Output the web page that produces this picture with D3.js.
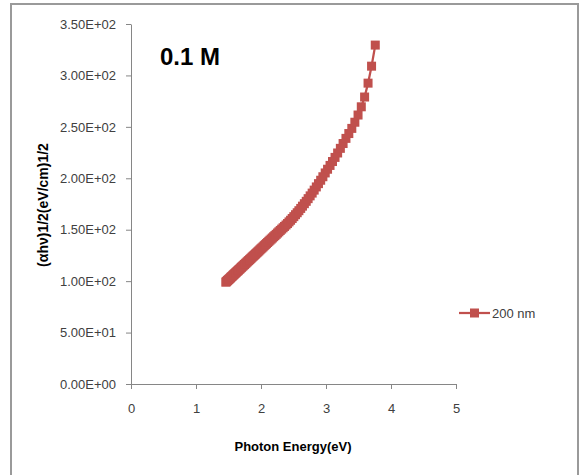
<!DOCTYPE html>
<html>
<head>
<meta charset="utf-8">
<script src="https://cdn.jsdelivr.net/npm/d3@7"></script>
<style>
  body { margin: 0; background: #fff; }
  text { font-family: "Liberation Sans", Arial, sans-serif; fill: #404040; }
</style>
</head>
<body>
<div id="chart"></div>
<script>
var width = 582, height = 475;
var margin = ({top: 24, right: 125, bottom: 91, left: 131});

// photon energy (eV)
var energy = [1.459,1.467,1.476,1.485,1.494,1.503,1.512,1.521,1.531,1.540,
  1.550,1.560,1.570,1.580,1.590,1.600,1.610,1.621,1.632,1.642,
  1.653,1.664,1.676,1.687,1.699,1.710,1.722,1.734,1.746,1.759,
  1.771,1.784,1.797,1.810,1.824,1.837,1.851,1.865,1.879,1.893,
  1.908,1.922,1.938,1.953,1.968,1.984,2.000,2.016,2.033,2.050,
  2.067,2.084,2.102,2.120,2.138,2.157,2.175,2.195,2.214,2.234,
  2.255,2.275,2.296,2.318,2.340,2.362,2.385,2.408,2.431,2.455,
  2.480,2.505,2.531,2.557,2.583,2.611,2.638,2.667,2.696,2.725,
  2.756,2.787,2.818,2.851,2.884,2.918,2.952,2.988,3.024,3.062,
  3.100,3.139,3.179,3.221,3.263,3.307,3.351,3.397,3.444,3.493,
  3.543,3.594,3.647,3.701,3.758];

// (ahv)^1/2 values, 200 nm film
var tauc200 = [99.0,99.5,100.0,100.6,101.1,101.6,102.2,102.7,103.3,103.9,
  104.5,105.1,105.7,106.3,106.9,107.5,108.1,108.7,109.4,110.0,
  110.6,111.3,112.0,112.7,113.4,114.1,114.8,115.5,116.2,117.0,
  117.7,118.5,119.3,120.1,120.9,121.7,122.5,123.4,124.2,125.0,
  125.9,126.8,127.7,128.6,129.5,130.5,131.5,132.4,133.4,134.5,
  135.5,136.5,137.6,138.7,139.8,140.9,142.0,143.2,144.3,145.5,
  146.8,148.0,149.3,150.6,151.9,153.2,154.6,156.0,157.6,159.2,
  160.9,162.7,164.6,166.5,168.5,170.7,172.9,175.3,177.6,180.2,
  182.9,185.6,188.5,191.6,194.8,198.1,201.5,205.2,208.8,212.5,
  216.3,220.3,224.6,229.1,233.8,238.8,243.5,248.5,254.5,261.5,
  269.5,279.0,292.5,309.0,329.5];

var xTicks = [0, 1, 2, 3, 4, 5];
var xTickLabels = ["0", "1", "2", "3", "4", "5"];
var yTicks = [0, 50, 100, 150, 200, 250, 300, 350];
var yTickLabels = ["0.00E+00","5.00E+01","1.00E+02","1.50E+02","2.00E+02","2.50E+02","3.00E+02","3.50E+02"];
var seriesName = "200 nm";
var red = "#c0504d";

var svg = d3.select("#chart").append("svg")
  .attr("width", width)
  .attr("height", height);

// chart frame
svg.append("rect")
  .attr("x", 11).attr("y", 4)
  .attr("width", 567).attr("height", 490)
  .attr("fill", "none")
  .attr("stroke", "#9a9a9a")
  .attr("stroke-width", 2);

var x = d3.scaleLinear().domain([0, 5]).range([margin.left, width - margin.right - 1]);
var y = d3.scaleLinear().domain([0, 350]).range([height - margin.bottom, margin.top]);

var xAxis = g => g
  .attr("transform", `translate(0,${y(0)})`)
  .call(d3.axisBottom(x).tickValues(xTicks).tickSize(5).tickSizeOuter(0).tickPadding(15)
    .tickFormat((d, i) => xTickLabels[i]))
  .call(g => g.selectAll("line, path").attr("stroke", "#868686"))
  .call(g => g.selectAll("text").attr("font-size", 13).attr("fill", "#404040")
    .attr("font-family", "Liberation Sans, Arial, sans-serif"));

var yAxis = g => g
  .attr("transform", `translate(${x(0)},0)`)
  .call(d3.axisLeft(y).tickValues(yTicks).tickSize(5).tickSizeOuter(0).tickPadding(10)
    .tickFormat((d, i) => yTickLabels[i]))
  .call(g => g.selectAll("line, path").attr("stroke", "#868686"))
  .call(g => g.selectAll("text").attr("font-size", 13).attr("fill", "#404040")
    .attr("font-family", "Liberation Sans, Arial, sans-serif"));

svg.append("g").call(xAxis);
svg.append("g").call(yAxis);

var pts = energy.map((e, i) => [e, tauc200[i]]);

var line = d3.line()
  .x(d => x(d[0]))
  .y(d => y(d[1]));

svg.append("path")
  .datum(pts)
  .attr("fill", "none")
  .attr("stroke", red)
  .attr("stroke-width", 2.25)
  .attr("d", line);

svg.append("g").selectAll("rect")
  .data(pts)
  .join("rect")
    .attr("x", d => x(d[0]) - 4.5)
    .attr("y", d => y(d[1]) - 4.5)
    .attr("width", 9)
    .attr("height", 9)
    .attr("fill", red);

// label inside plot
svg.append("text")
  .attr("x", 160).attr("y", 65)
  .attr("font-size", 24)
  .attr("font-weight", "bold")
  .style("fill", "#000")
  .text("0.1 M");

// axis titles
svg.append("text")
  .attr("x", 293).attr("y", 451)
  .attr("text-anchor", "middle")
  .attr("font-size", 13)
  .attr("font-weight", "bold")
  .style("fill", "#000")
  .text("Photon Energy(eV)");

svg.append("text")
  .attr("transform", "translate(48,205) rotate(-90)")
  .attr("text-anchor", "middle")
  .attr("font-size", 14)
  .attr("font-weight", "bold")
  .style("fill", "#000")
  .text("(\u03b1h\u03bd)1/2(eV/cm)1/2");

// legend
var lg = svg.append("g").attr("transform", "translate(459,313)");
lg.append("line")
  .attr("x1", 0).attr("x2", 31)
  .attr("stroke", red).attr("stroke-width", 2.25);
lg.append("rect")
  .attr("x", 11).attr("y", -4.5).attr("width", 9).attr("height", 9)
  .attr("fill", red);
lg.append("text")
  .attr("x", 33).attr("y", 4.5)
  .attr("font-size", 13)
  .text(seriesName);
</script>
</body>
</html>
